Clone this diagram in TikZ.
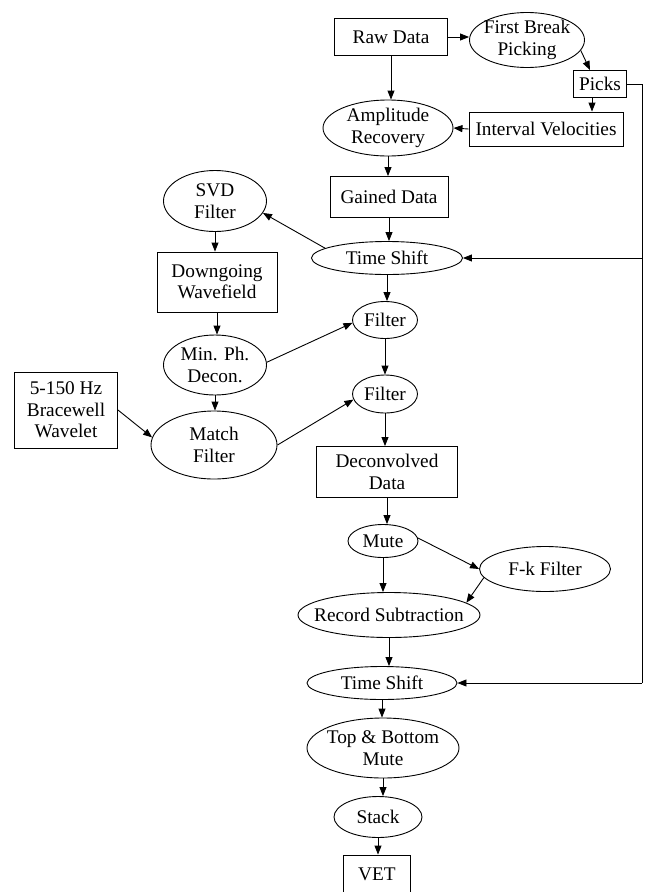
\documentclass[tikz,border=0pt]{standalone}
\usepackage{fontspec}
\setmainfont{Liberation Serif}
\usetikzlibrary{shapes.geometric,arrows.meta}
\begin{document}
\begin{tikzpicture}[x=1pt,y=-1pt,
  font=\fontsize{19.3}{21.5}\selectfont,
  line width=0.9pt,
  bx/.style={draw,rectangle,inner sep=0pt},
  el/.style={draw,ellipse,inner sep=0pt},
  txt/.style={align=center,inner sep=0pt},
  arr/.style={-{Triangle[length=9pt,width=7pt]}}]
\useasboundingbox (0,0) rectangle (645,892);
% nodes
\node[bx,minimum width=113,minimum height=37] (raw) at (391,37) {};
\node[txt] (rawt) at (raw) {Raw Data};
\node[el,minimum width=115,minimum height=55] (fbp) at (527,40) {};
\node[txt] (fbpt) at (fbp) {First Break\\Picking};
\node[bx,minimum width=53,minimum height=27] (picks) at (600,84) {};
\node[txt] (pickst) at (picks) {Picks};
\node[bx,minimum width=154,minimum height=34] (iv) at (546,129) {};
\node[txt] (ivt) at (iv) {Interval Velocities};
\node[el,minimum width=130,minimum height=56] (amp) at (388,128) {};
\node[txt] (ampt) at (amp) {Amplitude\\Recovery};
\node[bx,minimum width=118,minimum height=41] (gained) at (389,197) {};
\node[txt] (gainedt) at (gained) {Gained Data};
\node[el,minimum width=151,minimum height=33] (ts1) at (387,258) {};
\node[txt] (ts1t) at (ts1) {Time Shift};
\node[el,minimum width=103,minimum height=61] (svd) at (215,201) {};
\node[txt] (svdt) at (svd) {SVD\\Filter};
\node[bx,minimum width=120,minimum height=60] (down) at (217,282) {};
\node[txt] (downt) at (down) {Downgoing\\Wavefield};
\node[el,minimum width=65,minimum height=37] (f1) at (385,320) {};
\node[txt] (f1t) at (f1) {Filter};
\node[el,minimum width=103,minimum height=60] (minph) at (215,365) {};
\node[txt] (minpht) at (minph) {Min. Ph.\\Decon.};
\node[el,minimum width=65,minimum height=38] (f2) at (385,394) {};
\node[txt] (f2t) at (f2) {Filter};
\node[bx,minimum width=103,minimum height=76] (bw) at (66,410) {};
\node[txt] (bwt) at (bw) {5-150 Hz\\Bracewell\\Wavelet};
\node[el,minimum width=126,minimum height=68] (match) at (214,445) {};
\node[txt] (matcht) at (match) {Match\\Filter};
\node[bx,minimum width=141,minimum height=51] (decon) at (387,472) {};
\node[txt] (decont) at (decon) {Deconvolved\\Data};
\node[el,minimum width=70,minimum height=33] (mute) at (383,541) {};
\node[txt] (mutet) at (mute) {Mute};
\node[el,minimum width=131,minimum height=45] (fk) at (545,569) {};
\node[txt] (fkt) at (fk) {F-k Filter};
\node[el,minimum width=182,minimum height=45] (rec) at (389,615) {};
\node[txt] (rect) at (rec) {Record Subtraction};
\node[el,minimum width=150,minimum height=33] (ts2) at (382,683) {};
\node[txt] (ts2t) at (ts2) {Time Shift};
\node[el,minimum width=152,minimum height=60] (tbm) at (383,748) {};
\node[txt] (tbmt) at (tbm) {Top \& Bottom\\Mute};
\node[el,minimum width=88,minimum height=41] (stack) at (378,817) {};
\node[txt] (stackt) at (stack) {Stack};
\node[bx,minimum width=67,minimum height=60] (vet) at (377,885) {};
\node[txt] (vett) at (377,874) {VET};
\coordinate (rtop) at (642,84);
\coordinate (rbot) at (642,683);
% connectors
\draw[arr] (raw.east) -- (raw.east -| fbp.west);
\draw[arr] (fbp.-11) -- ([xshift=-10pt]picks.north);
\draw[arr] ([xshift=-8pt]picks.south) -- ([xshift=-8pt]picks.south |- iv.north);
\draw[arr] (iv.west) -- (amp.east);
\draw[arr] (raw.south) -- (raw.south |- amp.north);
\draw[arr] (amp.south) -- (amp.south |- gained.north);
\draw[arr] (gained.south) -- (gained.south |- ts1.north);
\draw[arr] (ts1.171.5) -- (svd.-14);
\draw[arr] (ts1.south) -- (ts1.south |- f1.north);
\draw[arr] (svd.south) -- (svd.south |- down.north);
\draw[arr] (down.south) -- (down.south |- minph.north);
\draw[arr] (minph.3) -- (f1.185);
\draw[arr] (f1.south) -- (f1.south |- f2.north);
\draw[arr] (minph.south) -- (minph.south |- match.north);
\draw[arr] (bw.east) -- (match.173.5);
\draw[arr] (match.east) -- (f2.190.6);
\draw[arr] (f2.south) -- (f2.south |- decon.north);
\draw[arr] (decon.south) -- (decon.south |- mute.north);
\draw[arr] (mute.5) -- (fk.west);
\draw[arr] (mute.south) -- (mute.south |- rec.north);
\draw[arr] (fk.188.5) -- (rec.9.7);
\draw[arr] (rec.south) -- (rec.south |- ts2.north);
\draw[arr] (ts2.south) -- (ts2.south |- tbm.north);
\draw[arr] (tbm.south) -- (tbm.south |- stack.north);
\draw[arr] (stack.south) -- (stack.south |- vet.north);
\draw (picks.east) -- (rtop) -- (rbot);
\draw[arr] (rbot) -- (ts2.east);
\draw[arr] (rtop |- ts1.east) -- (ts1.east);
\end{tikzpicture}
\end{document}
